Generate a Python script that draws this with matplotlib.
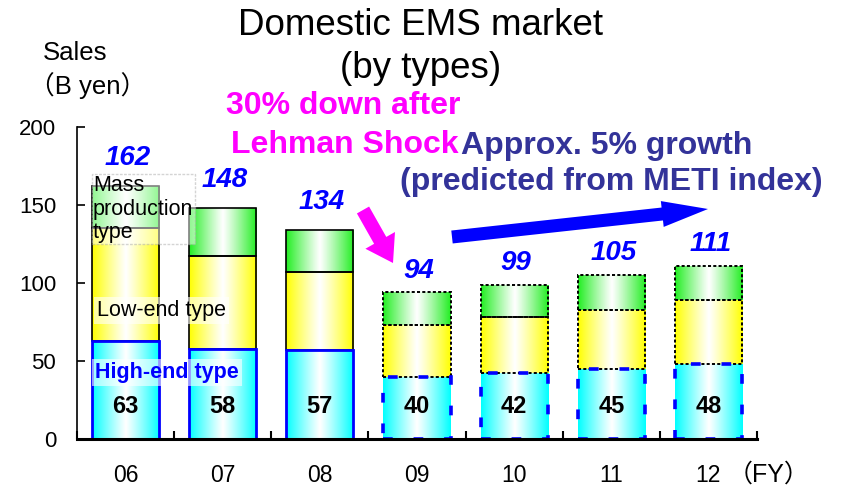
import numpy as np
import matplotlib
matplotlib.use('Agg')
import matplotlib.pyplot as plt
from matplotlib.patches import FancyArrow
from matplotlib.colors import to_rgb

# ---------------- data ----------------
years = ['06', '07', '08', '09', '10', '11', '12']
high_end = [63, 58, 57, 40, 42, 45, 48]
low_end = [72, 59, 50, 33, 36, 38, 41]
mass_prod = [27, 31, 27, 21, 21, 22, 22]
totals = [162, 148, 134, 94, 99, 105, 111]
forecast = [False, False, False, True, True, True, True]
yticks = [0, 50, 100, 150, 200]

plt.rcParams['font.family'] = ['Liberation Sans', 'Noto Sans CJK JP', 'DejaVu Sans']

W, H = 841, 486
fig = plt.figure(figsize=(W / 100, H / 100), dpi=100)
ax = fig.add_axes([77 / W, 47 / H, 680 / W, 312 / H])

x = np.arange(len(years))
width = 0.69

CYAN = '#00ffff'
YELLOW = '#ffff00'
GREEN = '#22ee22'


def gradient_fill(patch, color):
    x0, y0 = patch.get_x(), patch.get_y()
    w, h = patch.get_width(), patch.get_height()
    t = np.abs(np.linspace(-1, 1, 256)) ** 1.1
    c = np.array(to_rgb(color))
    img = (1 - t)[:, None] * np.ones(3) + t[:, None] * c
    im = ax.imshow(img[None, :, :], extent=[x0, x0 + w, y0, y0 + h],
                   aspect='auto', zorder=1, interpolation='bilinear')
    im.set_clip_path(patch)


def style_segment(patch, fc, is_fc, high):
    gradient_fill(patch, fc)
    if high:
        patch.set_edgecolor('#0000ff')
        if is_fc:
            lw = 2.6
            patch.set_linewidth(lw)
            patch.set_linestyle((0, (7 / lw, 15 / lw)))
        else:
            patch.set_linewidth(2.0)
    else:
        patch.set_edgecolor('black')
        if is_fc:
            lw = 1.4
            patch.set_linewidth(lw)
            patch.set_linestyle((0, (2.2 / lw, 1.6 / lw)))
        else:
            patch.set_linewidth(1.2)


bottom2 = np.array(high_end)
bottom3 = bottom2 + np.array(low_end)

b1 = ax.bar(x, high_end, width, facecolor='none', zorder=2)
b2 = ax.bar(x, low_end, width, bottom=bottom2, facecolor='none', zorder=2.1)
b3 = ax.bar(x, mass_prod, width, bottom=bottom3, facecolor='none', zorder=2.1)
for i in range(len(years)):
    style_segment(b2[i], YELLOW, forecast[i], False)
    style_segment(b3[i], GREEN, forecast[i], False)
    style_segment(b1[i], CYAN, forecast[i], True)
    b1[i].set_zorder(2.2)

for i in range(len(years)):
    ax.text(x[i], 21, str(high_end[i]), ha='center', va='center',
            fontsize=17, fontweight='bold', color='black', zorder=5)
    off = 14 if forecast[i] else 18
    ax.text(x[i] + 0.02, totals[i] + off, str(totals[i]), ha='center', va='center',
            fontsize=20, fontweight='bold', style='italic', color='#0000ff', zorder=5)

ax.set_xlim(-0.5, len(years) - 0.5)
ax.set_ylim(0, 200)
ax.set_yticks(yticks)
ax.set_yticklabels([str(v) for v in yticks])
ax.tick_params(axis='y', direction='in', length=6, width=1.2, pad=15, labelsize=16)
ax.set_xticks(np.arange(len(years) + 1) - 0.5)
ax.set_xticklabels([])
ax.tick_params(axis='x', which='major', direction='in', length=6, width=1.5)
ax.set_xticks(x, minor=True)
ax.set_xticklabels(years, minor=True)
ax.tick_params(axis='x', which='minor', length=0, pad=18, labelsize=16.5)
for s in ['top', 'right']:
    ax.spines[s].set_visible(False)
ax.spines['left'].set_linewidth(1.2)
ax.spines['bottom'].set_linewidth(2.2)

# ---------------- overlay (pixel coordinates) ----------------
ov = fig.add_axes([0, 0, 1, 1], zorder=10)
ov.set_xlim(0, W)
ov.set_ylim(H, 0)
ov.axis('off')

ov.text(421, 35, 'Domestic EMS market', ha='center', va='baseline', fontsize=26.5)
ov.text(421, 78, '(by types)', ha='center', va='baseline', fontsize=26.5)
ov.text(43, 60, 'Sales', ha='left', va='baseline', fontsize=18.5)
ov.text(29, 94, '（B yen）', ha='left', va='baseline', fontsize=18.5)
ov.text(728, 482, '（FY）', ha='left', va='baseline', fontsize=18)

ov.text(343, 114, '30% down after', ha='center', va='baseline', fontsize=23,
        fontweight='bold', color='#ff00ff')
ov.text(345, 153, 'Lehman Shock', ha='center', va='baseline', fontsize=23,
        fontweight='bold', color='#ff00ff')
ov.text(607, 154, 'Approx. 5% growth', ha='center', va='baseline', fontsize=23,
        fontweight='bold', color='#333399')
ov.text(611, 190, '(predicted from METI index)', ha='center', va='baseline', fontsize=23,
        fontweight='bold', color='#333399')

# arrows
ov.add_patch(FancyArrow(363, 210, 393 - 363, 263 - 210, width=14, head_width=34,
                        head_length=26, length_includes_head=True,
                        color='#ff00ff', lw=0))
ov.add_patch(FancyArrow(452, 237, 708 - 452, 209 - 237, width=13, head_width=26,
                        head_length=46, length_includes_head=True,
                        color='#0000ff', lw=0))

# labels over the first bar
box = dict(facecolor='white', alpha=0.6, edgecolor='none', pad=2)
ov.text(93, 238, 'Mass\nproduction\ntype', ha='left', va='baseline', fontsize=15.5,
        linespacing=1.15, bbox=dict(facecolor='white', alpha=0.5, edgecolor='#aaaaaa',
                                    linestyle=(0, (2, 1)), pad=1))
ov.text(97, 316, 'Low-end type', ha='left', va='baseline', fontsize=15.5, bbox=box)
ov.text(95, 378, 'High-end type', ha='left', va='baseline', fontsize=15.5,
        fontweight='bold', color='#0000ff', bbox=box)

fig.savefig('out.png', dpi=100)
